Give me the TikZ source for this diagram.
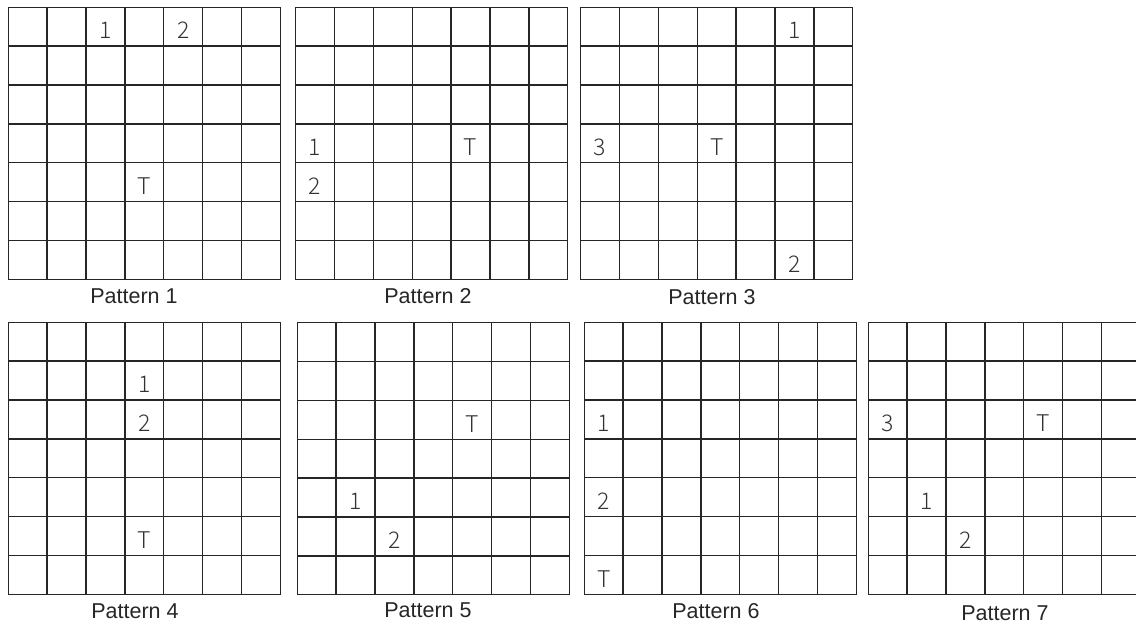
\documentclass[tikz,border=0pt]{standalone}
\usepackage{fontspec}
\setmainfont{Liberation Sans}
\newfontfamily\cellfont{Noto Sans CJK SC Light}
\usetikzlibrary{calc}

\begin{document}
\begin{tikzpicture}[x=1pt, y=-1pt,
    gridline/.style={line width=1.4pt, draw=black!85, line cap=rect},
    celltext/.style={font=\cellfont\fontsize{23}{23}\selectfont, text=black!80, inner sep=0pt},
    caption/.style={font=\fontsize{21.5}{22}\selectfont, text=black!85, inner sep=0pt}]
    \useasboundingbox (0,0) rectangle (1136,626);
    \clip (0,0) rectangle (1136,626);
    % the seven 7x7 boards (number/left/top)
    \foreach \g/\x/\y in {1/8.3/7.3, 2/295.7/7.3, 3/580.7/7.3,
                          4/8.3/322.3, 5/297.3/322.7, 6/584.3/322.3, 7/868.3/322.3}{
        \coordinate (g\g) at (\x,\y);
        \foreach \i in {0,...,7}{
            \draw[gridline] (\x+\i*38.86,\y) -- (\x+\i*38.86,\y+272);
            \draw[gridline] (\x,\y+\i*38.86) -- (\x+272,\y+\i*38.86);
        }
    }
    % marks in the cells (board/column/row/text)
    \foreach \g/\c/\r/\t in {1/2/0/1, 1/4/0/2, 1/3/4/T,
                             2/0/3/1, 2/0/4/2, 2/4/3/T,
                             3/5/0/1, 3/5/6/2, 3/0/3/3, 3/3/3/T,
                             4/3/1/1, 4/3/2/2, 4/3/5/T,
                             5/4/2/T, 5/1/4/1, 5/2/5/2,
                             6/0/2/1, 6/0/4/2, 6/0/6/T,
                             7/0/2/3, 7/4/2/T, 7/1/4/1, 7/2/5/2}
        \node[celltext] (p\g-\t) at ($(g\g)+(\c*38.86+19.43,\r*38.86+23.4)$) {\t};
    % captions
    \node[caption] (cap1) at (134,296.5) {Pattern 1};
    \node[caption] (cap2) at (428,296.5) {Pattern 2};
    \node[caption] (cap3) at (712,297) {Pattern 3};
    \node[caption] (cap4) at (135,611.5) {Pattern 4};
    \node[caption] (cap5) at (428,610) {Pattern 5};
    \node[caption] (cap6) at (716,611.5) {Pattern 6};
    \node[caption] (cap7) at (1005,613) {Pattern 7};
\end{tikzpicture}
\end{document}
